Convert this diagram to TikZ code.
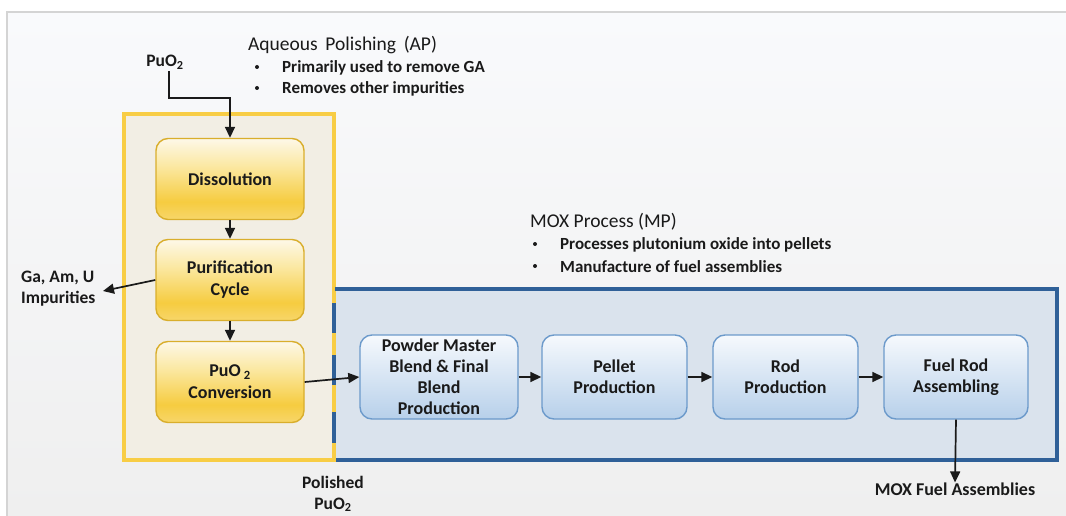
\documentclass[tikz,border=0pt]{standalone}
\usepackage{fontspec}
\setmainfont{Carlito}
\usetikzlibrary{arrows.meta}
\definecolor{ybot}{HTML}{F7D66A}
\definecolor{ysat}{HTML}{F6CC40}
\definecolor{ylight}{HTML}{FBE8A2}
\definecolor{ytop}{HTML}{FDF8E8}
\definecolor{yborder}{HTML}{D9AE2C}
\definecolor{yframe}{HTML}{F8CD45}
\definecolor{yfill}{HTML}{F2EEE4}
\definecolor{bframe}{HTML}{2F6098}
\definecolor{bfill}{HTML}{DAE3ED}
\definecolor{bborder}{HTML}{6C9ACB}
\definecolor{btop}{HTML}{F6F9FD}
\definecolor{bbot}{HTML}{B7D0EA}
\definecolor{bgtop}{HTML}{F9FAFC}
\definecolor{bgbot}{HTML}{EFEFEF}
\definecolor{frameline}{HTML}{D4D4D4}
\definecolor{ink}{HTML}{1A1A1A}
\pgfdeclareverticalshading{yelshade}{100bp}{color(0bp)=(ybot); color(25bp)=(ybot); color(36bp)=(ysat); color(58bp)=(ylight); color(75bp)=(ytop); color(100bp)=(ytop)}
\pgfdeclareverticalshading{blushade}{100bp}{color(0bp)=(bbot); color(25bp)=(bbot); color(75bp)=(btop); color(100bp)=(btop)}
\tikzset{
  ybox/.style={draw=yborder, line width=1.4pt, rounded corners=12pt, shading=yelshade,
    minimum width=148pt, minimum height=81pt, align=center, font=\fontsize{18}{22}\selectfont\bfseries, text=ink},
  bbox/.style={draw=bborder, line width=1.4pt, rounded corners=12pt, shading=blushade,
    minimum height=84pt, align=center, font=\fontsize{18}{21}\selectfont\bfseries, text=ink},
  flow/.style={line width=1.7pt, draw=ink, -{Triangle[length=11pt,width=10pt]}},
  lbl/.style={font=\fontsize{17.5}{21}\selectfont\bfseries, text=ink, inner sep=0pt, align=center},
  ttl/.style={font=\fontsize{19.5}{22}\selectfont, text=ink, inner sep=0pt, anchor=west},
  bul/.style={font=\fontsize{17}{20}\selectfont\bfseries, text=ink, inner sep=0pt, anchor=west},
  dot/.style={circle, fill=ink, inner sep=0pt, minimum size=4pt}
}
\begin{document}
\begin{tikzpicture}[x=1pt,y=-1pt]
\useasboundingbox (0,0) rectangle (1066,516);
% background
\fill[white] (0,0) rectangle (1066,516);
\fill[top color=bgtop, bottom color=bgbot] (7,12) rectangle (1066,516);
\draw[frameline, line width=2pt] (7,516) -- (7,12) -- (1066,12);
% MOX process box
\fill[bfill] (335,289) rectangle (1057,460);
% Aqueous polishing box
\filldraw[fill=yfill, draw=yframe, line width=3.5pt] (124,114) rectangle (334,460);
\draw[bframe, line width=3.5pt] (335,289) -- (1057,289) -- (1057,460) -- (335.8,460);
\draw[bframe, line width=3.5pt] (334,303) -- (334,333) (334,355) -- (334,385) (334,412) -- (334,443);
% AP steps
\node[ybox] (dis) at (230,179) {Dissolution};
\node[ybox] (pur) at (230,280) {Purification\\Cycle};
\node[ybox] (conv) at (230,382) {PuO\,\textsubscript{2}\\Conversion};
% MP steps
\node[bbox, minimum width=158pt] (pow) at (439,377) {Powder Master\\Blend \& Final\\Blend\\Production};
\node[bbox, minimum width=145pt] (pel) at (614.5,377) {Pellet\\Production};
\node[bbox, minimum width=145pt] (rod) at (785.5,377) {Rod\\Production};
\node[bbox, minimum width=144pt] (fuel) at (956,377) {Fuel Rod\\Assembling};
% labels
\node[lbl] (puo) at (165,62) {PuO\textsubscript{2}};
\node[lbl, align=left, anchor=west] (imp) at (21,289) {Ga, Am, U\\Impurities};
\node[lbl] (pol) at (333,494) {Polished\\PuO\textsubscript{2}};
\node[lbl, font=\fontsize{18}{21}\selectfont\bfseries] (mfa) at (955,489) {MOX Fuel Assemblies};
\coordinate (impend) at (103,291);
% titles
\node[ttl] (aptitle) at (248,45) {Aqueous\, Polishing\, (AP)};
\node[dot] (apb1) at (257,67) {};
\node[bul] (apt1) at (282,68) {Primarily used to remove GA};
\node[dot] (apb2) at (257,88) {};
\node[bul] (apt2) at (282,89) {Removes other impurities};
\node[ttl] (mptitle) at (530,222) {MOX Process (MP)};
\node[dot] (mpb1) at (535,244) {};
\node[bul] (mpt1) at (560,245) {Processes plutonium oxide into pellets};
\node[dot] (mpb2) at (535,266) {};
\node[bul] (mpt2) at (560,267) {Manufacture of fuel assemblies};
% connectors
\draw[flow] (puo.south -| 169,0) ++(0,2) |- (230,98) -- (dis.north);
\draw[flow] (dis) -- (pur);
\draw[flow] (pur) -- (conv);
\draw[flow] (pur.west) -- (impend);
\draw[flow] (conv.east) -- (pow.west);
\draw[flow] (pow) -- (pel);
\draw[flow] (pel) -- (rod);
\draw[flow] (rod) -- (fuel);
\draw[flow] (fuel.south) -- (mfa.north);
\end{tikzpicture}
\end{document}
